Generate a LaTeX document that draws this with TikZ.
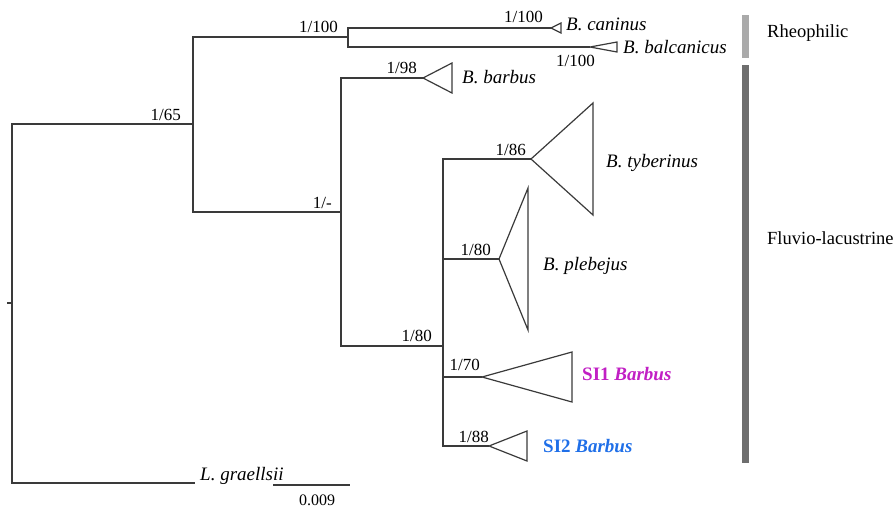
\documentclass[tikz,border=0pt]{standalone}
\usepackage{fontspec}
\setmainfont{Liberation Serif}
\usetikzlibrary{positioning}
\definecolor{br}{HTML}{3a3a3a}
\definecolor{mg}{HTML}{c11fc4}
\definecolor{bl}{HTML}{1f6fe8}
\definecolor{lg}{HTML}{aaaaaa}
\definecolor{dg}{HTML}{6e6e6e}
\begin{document}
\begin{tikzpicture}[x=1pt,y=-1pt,
  branch/.style={draw=br,line width=1.4pt},
  clade/.style={draw=br,line width=1.2pt,line join=miter},
  bs/.style={inner sep=0pt,anchor=base east,font=\fontsize{17}{19}\selectfont},
  taxon/.style={inner sep=0pt,anchor=base west,font=\fontsize{19}{22}\selectfont\itshape},
  habit/.style={inner sep=0pt,anchor=base west,font=\fontsize{18.5}{22}\selectfont}]
\useasboundingbox (0,0) rectangle (895,509);
% internal nodes
\coordinate (stub) at (7,303);
\coordinate (root) at (12,303);
\coordinate (n65) at (193,124);
\coordinate (rheo) at (348,37);
\coordinate (n1m) at (341,212);
\coordinate (n80) at (443,346);
% tips
\coordinate (can) at (551,28);
\coordinate (bal) at (590,47);
\coordinate (bar) at (423,78);
\coordinate (tyb) at (531,159);
\coordinate (ple) at (499,259);
\coordinate (si1) at (482,377);
\coordinate (si2) at (489,446);
\coordinate (gra) at (195,483);
\draw[branch](stub)--(root);
\foreach \a/\b in {root/n65,root/gra,n65/rheo,n65/n1m,rheo/can,rheo/bal,n1m/bar,n1m/n80,n80/tyb,n80/ple,n80/si1,n80/si2}
  \draw[branch](\a)|-(\b);
\foreach \t/\w/\h in {can/10/5,bal/27/5,bar/29/15,tyb/62/56,ple/29/71,si1/90/25,si2/38/15}
  \draw[clade](\t)--++(\w,-\h)--++(0,2*\h)--cycle;
% support values
\node[bs](s65) at (181,120){1/65};
\node[bs](s100a) at (338,32){1/100};
\node[bs](s1m) at (332,208){1/-};
\node[bs](s100c) at (543,22){1/100};
\node[bs,anchor=north east](s100b) at (595,55){1/100};
\node[bs](s98) at (417,73){1/98};
\node[bs](s80a) at (432,341){1/80};
\node[bs](s86) at (526,155){1/86};
\node[bs](s80b) at (491,255){1/80};
\node[bs](s70) at (480,370){1/70};
\node[bs](s88) at (489,442){1/88};
% taxa
\node[taxon](tcan) at (566,30){B. caninus};
\node[taxon](tbal) at (623,53){B. balcanicus};
\node[taxon](tbar) at (462,83){B. barbus};
\node[taxon](ttyb) at (606,167){B. tyberinus};
\node[taxon](tple) at (543,270){B. plebejus};
\node[taxon,text=mg,font=\fontsize{19}{22}\selectfont\bfseries](tsi1) at (582,380){SI1 \textit{Barbus}};
\node[taxon,text=bl,font=\fontsize{19}{22}\selectfont\bfseries](tsi2) at (543,452){SI2 \textit{Barbus}};
\node[taxon](tgra) at (200,480){L. graellsii};
% scale bar
\coordinate (sb1) at (273,485);
\coordinate (sb2) at (350,485);
\draw[branch](sb1)--(sb2);
\node[bs,anchor=base,font=\fontsize{16}{18}\selectfont](sbl) at (317,505){0.009};
% habitat bars
\fill[lg](742,15) rectangle (749,58);
\fill[dg](742,65) rectangle (749,463);
\node[habit](rh) at (767,37){Rheophilic};
\node[habit](fl) at (767,244){Fluvio-lacustrine};
\end{tikzpicture}
\end{document}
